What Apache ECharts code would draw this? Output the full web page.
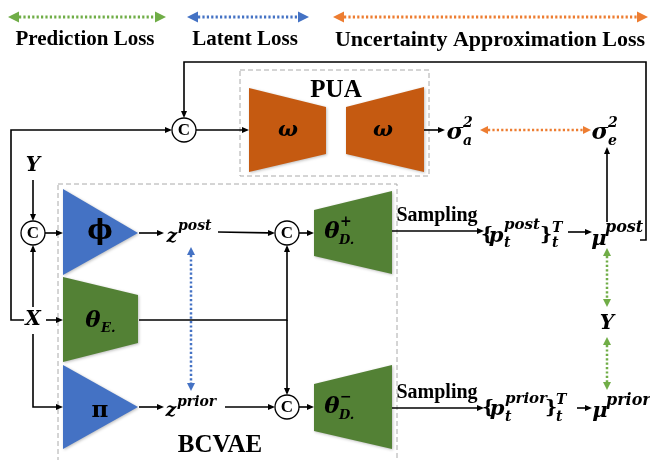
<!DOCTYPE html>
<html><head><meta charset="utf-8">
<script src="https://cdn.jsdelivr.net/npm/echarts@6/dist/echarts.min.js"></script>
<style>html,body{margin:0;padding:0;background:#fff}#c{width:650px;height:460px}</style>
</head><body><div id="c"></div>
<script>
// ---- diagram data (canvas units: x 0..650, y 0..460) ----
const blocks = [
  {name:'PUA enc', color:'#C55A11', pts:[[249,88],[326,107],[326,154],[249,172]]},
  {name:'PUA dec', color:'#C55A11', pts:[[346,107],[424,87],[424,172],[346,154]]},
  {name:'phi',     color:'#4472C4', pts:[[63,189],[138,233],[63,275]]},
  {name:'thetaE',  color:'#538135', pts:[[63,277],[138,295],[138,343],[63,362]]},
  {name:'pi',      color:'#4472C4', pts:[[63,365],[138,407],[63,449]]},
  {name:'thetaD+', color:'#538135', pts:[[314,210],[392,191],[392,274],[314,256]]},
  {name:'thetaD-', color:'#538135', pts:[[314,384],[392,365],[392,449],[314,431]]}
];
const concatNodes = [[184,130],[33,233],[287,233],[287,407]];
const dashedBoxes = [[240,70,429,176],[58,184,397,472]];
const flowArrows = [
  [[640,240],[646,240],[646,62],[184,62],[184,118]],
  [[24,320],[11,320],[11,130],[172,130]],
  [[196,130],[249,130]],
  [[424,130],[445,130]],
  [[607,222],[607,147]],
  [[33,180],[33,221]],
  [[33,307],[33,245]],
  [[45,233],[63,233]],
  [[139,233],[164,233]],
  [[218,232],[275,233]],
  [[299,233],[314,233]],
  [[46,320],[63,320]],
  [[139,320],[287,320],[287,245]],
  [[287,320],[287,395]],
  [[33,334],[33,407],[63,407]],
  [[139,407],[164,407]],
  [[225,407],[275,407]],
  [[299,407],[314,407]],
  [[392,231],[484,231]],
  [[568,232],[592,232]],
  [[392,408],[484,408]],
  [[577,408],[592,408]]
];
const lossArrows = [
  {kind:'pred', pts:[[8,17],[166,17]], w:3},
  {kind:'lat',  pts:[[187,17],[309,17]], w:3},
  {kind:'unc',  pts:[[333,17],[648,17]], w:3},
  {kind:'unc',  pts:[[480,130],[591,130]], w:2.5},
  {kind:'lat',  pts:[[191,247],[191,391]], w:2.5},
  {kind:'pred', pts:[[607,248],[607,307]], w:2.5},
  {kind:'pred', pts:[[607,337],[607,390]], w:2.5}
];
const lossColors = {pred:'#70AD47', lat:'#4472C4', unc:'#ED7D31'};
// [x, y, text, size, font, align]
const labels = [
  [85,40,'Prediction Loss',21,'T','center'],
  [245,40,'Latent Loss',21,'T','center'],
  [490,40,'Uncertainty Approximation Loss',22,'T','center'],
  [336,91,'PUA',25,'T','center'],
  [220,446,'BCVAE',25,'T','center'],
  [437,216,'Sampling',20,'T','center'],
  [437,393,'Sampling',20,'T','center'],
  [33,166,'Y',20,'M','center'],
  [33,320,'X',20,'M','center'],
  [100,232,'ϕ',27,'U','center'],
  [100,411,'π',23,'U','center'],
  [288,131,'ω',21,'M','center'],
  [383,131,'ω',21,'M','center'],
  [93,321,'θ',23,'M','center'],
  [101,329,'E.',13,'M','left'],
  [332,232,'θ',23,'M','center'],
  [340,222,'+',14,'M','left'],
  [339,241,'D.',13,'M','left'],
  [332,407,'θ',23,'M','center'],
  [340,397,'−',14,'M','left'],
  [339,416,'D.',13,'M','left'],
  [455,133,'σ',23,'M','center'],
  [463,123,'2',14,'M','left'],
  [463,141,'a',14,'M','left'],
  [600,133,'σ',23,'M','center'],
  [608,123,'2',14,'M','left'],
  [608,141,'e',14,'M','left'],
  [172,237,'z',19,'M','center'],
  [178,226,'post',14,'M','left'],
  [171,411,'z',19,'M','center'],
  [177,402,'prior',14,'M','left'],
  [487,235,'{',19,'U','center'],
  [496,237,'p',21,'M','center'],
  [504,225,'post',15,'M','left'],
  [504,243,'t',14,'M','left'],
  [546,235,'}',19,'U','center'],
  [552,228,'T',14,'M','left'],
  [552,243,'t',14,'M','left'],
  [488,408,'{',19,'U','center'],
  [497,410,'p',21,'M','center'],
  [505,399,'prior',15,'M','left'],
  [505,417,'t',14,'M','left'],
  [551,408,'}',19,'U','center'],
  [556,400,'T',14,'M','left'],
  [556,417,'t',14,'M','left'],
  [599,240,'μ',21,'M','center'],
  [605,228,'post',16,'M','left'],
  [600,412,'μ',21,'M','center'],
  [606,401,'prior',16,'M','left'],
  [607,324,'Y',20,'M','center']
];
// ---------------------------------------------
const fonts = {
  T: 'bold {s}px "Liberation Serif"',
  M: 'italic bold {s}px "DejaVu Serif"',
  U: 'bold {s}px "DejaVu Serif"'
};
function head(tip, prev, len, wid) {
  const dx = tip[0]-prev[0], dy = tip[1]-prev[1];
  const d = Math.hypot(dx, dy) || 1, ux = dx/d, uy = dy/d;
  const bx = tip[0]-ux*len, by = tip[1]-uy*len;
  return {base:[bx,by], poly:[tip,[bx-uy*wid/2, by+ux*wid/2],[bx+uy*wid/2, by-ux*wid/2]]};
}
function arrowGroup(pts, color, width, dash, both, len, wid) {
  const p = pts.slice();
  const children = [];
  const hEnd = head(p[p.length-1], p[p.length-2], len, wid);
  children.push({type:'polygon', shape:{points:hEnd.poly}, style:{fill:color}});
  p[p.length-1] = hEnd.base;
  if (both) {
    const hStart = head(p[0], p[1], len, wid);
    children.push({type:'polygon', shape:{points:hStart.poly}, style:{fill:color}});
    p[0] = hStart.base;
  }
  children.unshift({type:'polyline', shape:{points:p},
    style:{fill:null, stroke:color, lineWidth:width, lineDash:dash}});
  return {type:'group', children};
}
const chart = echarts.init(document.getElementById('c'), null, {renderer:'canvas'});
const idx = a => a.map((_, i) => [i, 0]);
chart.setOption({
  animation: false,
  backgroundColor: '#fff',
  grid: {left:0, right:0, top:0, bottom:0},
  xAxis: {type:'value', min:0, max:650, show:false},
  yAxis: {type:'value', min:0, max:460, inverse:true, show:false},
  series: [
    {type:'custom', coordinateSystem:'cartesian2d', z:1, data: idx(dashedBoxes),
     renderItem:(p, api) => {
       const b = dashedBoxes[p.dataIndex];
       const a = api.coord([b[0], b[1]]), c = api.coord([b[2], b[3]]);
       return {type:'rect', shape:{x:a[0], y:a[1], width:c[0]-a[0], height:c[1]-a[1]},
         style:{fill:null, stroke:'#aaaaaa', lineWidth:1, lineDash:[5,3]}};
     }},
    {type:'custom', coordinateSystem:'cartesian2d', z:2, data: idx(blocks),
     renderItem:(p, api) => {
       const b = blocks[p.dataIndex];
       return {type:'polygon', shape:{points: b.pts.map(q => api.coord(q))},
         style:{fill:b.color, shadowBlur:3, shadowColor:'rgba(0,0,0,0.25)', shadowOffsetX:1, shadowOffsetY:1}};
     }},
    {type:'custom', coordinateSystem:'cartesian2d', z:3, data: idx(flowArrows),
     renderItem:(p, api) => arrowGroup(flowArrows[p.dataIndex].map(q => api.coord(q)), '#000', 1.6, null, false, 7, 6)},
    {type:'custom', coordinateSystem:'cartesian2d', z:3, data: idx(lossArrows),
     renderItem:(p, api) => {
       const l = lossArrows[p.dataIndex];
       const big = l.w >= 3;
       return arrowGroup(l.pts.map(q => api.coord(q)), lossColors[l.kind], l.w, [2.2,2.2], true, big ? 11 : 8, big ? 11 : 8);
     }},
    {type:'custom', coordinateSystem:'cartesian2d', z:4, data: idx(concatNodes),
     renderItem:(p, api) => {
       const c = api.coord(concatNodes[p.dataIndex]);
       return {type:'group', children:[
         {type:'circle', shape:{cx:c[0], cy:c[1], r:12}, style:{fill:'#fff', stroke:'#000', lineWidth:1.3}},
         {type:'text', x:c[0], y:c[1]+1, style:{text:'C', font:'bold 17px "Liberation Serif"', fill:'#000', align:'center', verticalAlign:'middle'}}
       ]};
     }},
    {type:'custom', coordinateSystem:'cartesian2d', z:5, data: idx(labels),
     renderItem:(p, api) => {
       const l = labels[p.dataIndex];
       const c = api.coord([l[0], l[1]]);
       return {type:'text', x:c[0], y:c[1],
         style:{text:l[2], font:fonts[l[4]].replace('{s}', l[3]), fill:'#000', align:l[5], verticalAlign:'middle'}};
     }}
  ]
});
</script></body></html>
